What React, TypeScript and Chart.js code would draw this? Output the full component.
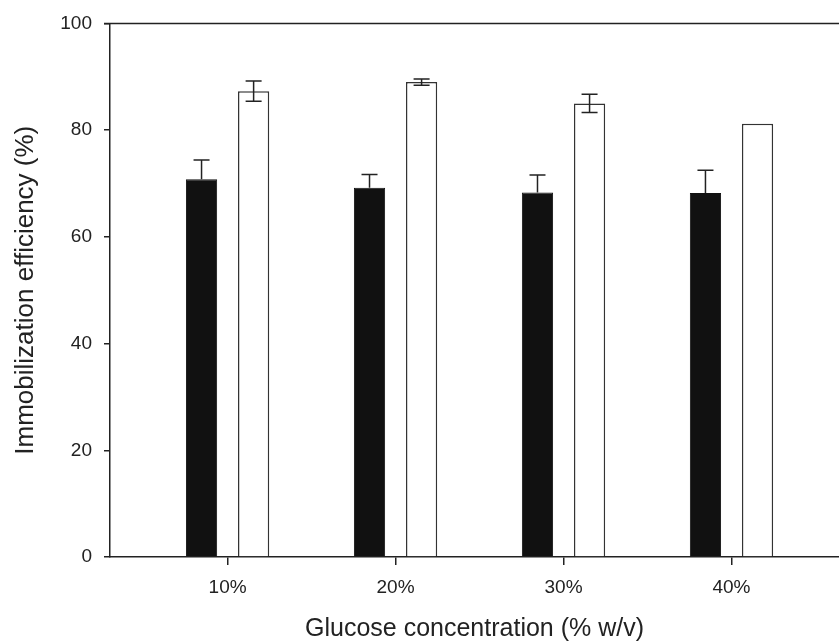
import React, { useEffect, useRef } from "react";
import { Chart, registerables } from "chart.js";

Chart.register(...registerables);

const categories = ["10%", "20%", "30%", "40%"];
const categoryPositions = [1, 2, 3, 4];
const blackValues = [70.8, 69.2, 68.3, 68.2];
const blackErrors = [3.6, 2.5, 3.3, 4.3];
const whiteValues = [87.3, 89.0, 85.0, 81.2];
const whiteErrors = [1.9, 0.6, 1.7, 0];
const yTicks = [0, 20, 40, 60, 80, 100];

const FONT = "'Liberation Sans', Arial, Helvetica, sans-serif";
const INK = "#222";

const errorBarPlugin = {
  id: "errorBars",
  afterDatasetsDraw(chart: any) {
    const ctx = chart.ctx;
    const yScale = chart.scales.y;
    const errs = [blackErrors, whiteErrors];
    const vals = [blackValues, whiteValues];
    ctx.save();
    ctx.strokeStyle = INK;
    ctx.lineWidth = 1.5;
    chart.data.datasets.forEach((_ds: any, di: number) => {
      const meta = chart.getDatasetMeta(di);
      meta.data.forEach((el: any, j: number) => {
        const e = errs[di][j];
        if (!e) return;
        const v = vals[di][j];
        const x = el.x;
        const yT = yScale.getPixelForValue(v + e);
        const yB = yScale.getPixelForValue(v - e);
        const yV = yScale.getPixelForValue(v);
        const cap = 8;
        const upperOnly = di === 0;
        ctx.beginPath();
        ctx.moveTo(x, yT);
        ctx.lineTo(x, upperOnly ? yV : yB);
        ctx.moveTo(x - cap, yT);
        ctx.lineTo(x + cap, yT);
        if (!upperOnly) {
          ctx.moveTo(x - cap, yB);
          ctx.lineTo(x + cap, yB);
        }
        ctx.stroke();
      });
    });
    ctx.restore();
  },
};

const topLinePlugin = {
  id: "topLine",
  afterDraw(chart: any) {
    const { ctx, chartArea } = chart;
    ctx.save();
    ctx.strokeStyle = INK;
    ctx.lineWidth = 1.5;
    ctx.beginPath();
    ctx.moveTo(chartArea.left - 6, chartArea.top);
    ctx.lineTo(chart.width, chartArea.top);
    ctx.stroke();
    ctx.restore();
  },
};

export default function App() {
  const ref = useRef<HTMLCanvasElement>(null);
  useEffect(() => {
    if (!ref.current) return;
    const chart = new Chart(ref.current, {
      type: "bar",
      data: {
        datasets: [
          {
            label: "black",
            data: categoryPositions.map((x, i) => ({ x, y: blackValues[i] })),
            backgroundColor: "#111",
            borderColor: "#111",
            borderWidth: 1,
            categoryPercentage: 0.62,
            barPercentage: 0.6,
          },
          {
            label: "white",
            data: categoryPositions.map((x, i) => ({ x, y: whiteValues[i] })),
            backgroundColor: "#fff",
            borderColor: "#333",
            borderWidth: 1.5,
            categoryPercentage: 0.62,
            barPercentage: 0.6,
          },
        ] as any,
      },
      options: {
        animation: false,
        responsive: false,
        maintainAspectRatio: false,
        layout: { padding: { top: 22, right: 0, left: 0, bottom: 0 } },
        plugins: {
          legend: { display: false },
          tooltip: { enabled: false },
        },
        scales: {
          x: {
            type: "linear",
            offset: false,
            min: 0.3,
            max: 4.64,
            afterBuildTicks: (scale: any) => {
              scale.ticks = categoryPositions.map((v) => ({ value: v }));
            },
            afterFit: (scale: any) => {
              scale.height = 87;
            },
            grid: {
              display: true,
              offset: false,
              drawOnChartArea: false,
              drawTicks: true,
              tickLength: 8,
              color: INK,
              lineWidth: 1.5,
            },
            border: { display: true, color: INK, width: 1.5 },
            ticks: {
              autoSkip: false,
              maxRotation: 0,
              padding: 11,
              color: INK,
              font: { family: FONT, size: 19 },
              callback: (v: any) => {
                const idx = categoryPositions.indexOf(Number(v));
                return idx >= 0 ? categories[idx] : "";
              },
            },
            title: {
              display: true,
              text: "Glucose concentration (% w/v)",
              color: INK,
              font: { family: FONT, size: 25 },
              padding: { top: 0, bottom: 0 },
            },
          },
          y: {
            type: "linear",
            min: 0,
            max: 100,
            afterBuildTicks: (scale: any) => {
              scale.ticks = yTicks.map((v) => ({ value: v }));
            },
            afterFit: (scale: any) => {
              scale.width = 110;
            },
            grid: {
              display: true,
              drawOnChartArea: false,
              drawTicks: true,
              tickLength: 6,
              color: INK,
              lineWidth: 1.5,
            },
            border: { display: true, color: INK, width: 1.5 },
            ticks: {
              padding: 12,
              color: INK,
              font: { family: FONT, size: 19 },
            },
            title: {
              display: true,
              text: "Immobilization efficiency (%)",
              color: INK,
              font: { family: FONT, size: 26 },
              padding: { top: 10, bottom: 0 },
            },
          },
        },
      },
      plugins: [errorBarPlugin, topLinePlugin],
    } as any);
    return () => chart.destroy();
  }, []);
  return (
    <div style={{ position: "fixed", left: 0, top: 0, width: 839, height: 644, background: "#fff" }}>
      <canvas ref={ref} width={839} height={644} style={{ display: "block", width: 839, height: 644 }} />
    </div>
  );
}
